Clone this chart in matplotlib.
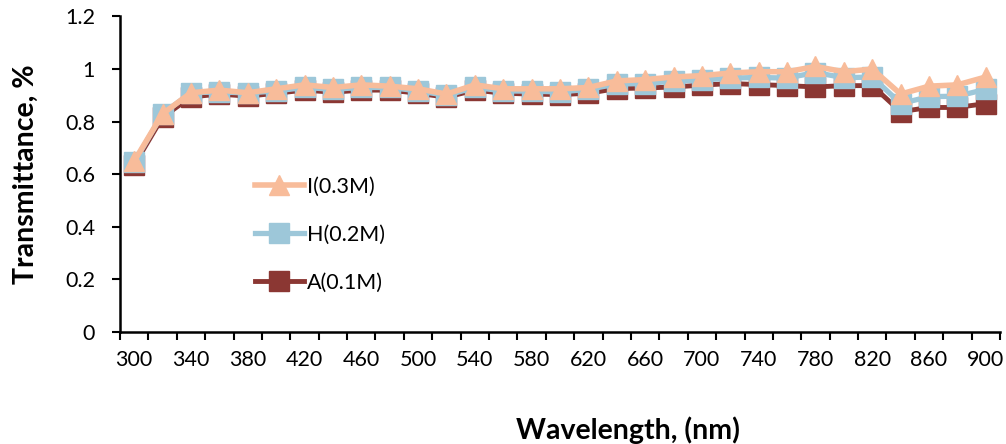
import matplotlib
matplotlib.use("Agg")
import matplotlib.pyplot as plt
import numpy as np

plt.rcParams['font.family'] = ['Lato', 'DejaVu Sans']

wavelengths = [300, 320, 340, 360, 380, 400, 420, 440, 460, 480, 500,
               520, 540, 560, 580, 600, 620, 640, 660, 680, 700, 720,
               740, 760, 780, 800, 820, 840, 860, 880, 900]

I_03M = [0.65, 0.83, 0.91, 0.92, 0.91, 0.925, 0.94, 0.93, 0.94, 0.935, 0.925,
         0.905, 0.94, 0.925, 0.925, 0.925, 0.93, 0.955, 0.96, 0.97, 0.975, 0.985,
         0.99, 0.99, 1.01, 0.99, 1.0, 0.905, 0.935, 0.94, 0.97]

H_02M = [0.645, 0.83, 0.91, 0.913, 0.909, 0.917, 0.93, 0.923, 0.93, 0.93, 0.917,
         0.90, 0.93, 0.917, 0.916, 0.913, 0.923, 0.943, 0.945, 0.954, 0.958, 0.966,
         0.968, 0.966, 0.987, 0.967, 0.97, 0.869, 0.895, 0.897, 0.923]

A_01M = [0.635, 0.817, 0.894, 0.905, 0.897, 0.908, 0.92, 0.912, 0.92, 0.92, 0.908,
         0.893, 0.92, 0.908, 0.905, 0.903, 0.908, 0.926, 0.928, 0.932, 0.939, 0.945,
         0.941, 0.937, 0.932, 0.937, 0.937, 0.838, 0.854, 0.854, 0.869]

c_I = '#F8BC9A'
c_H = '#9DC7D9'
c_A = '#8B3733'

fig = plt.figure(figsize=(10.06, 4.44), dpi=100)
ax = fig.add_axes([120 / 1006, 1 - 332 / 444, 880 / 1006, (332 - 16.5) / 444])

x = np.arange(len(wavelengths))
ax.plot(x, A_01M, color=c_A, lw=3.5, marker='s', ms=14, label='A(0.1M)', zorder=3)
ax.plot(x, H_02M, color=c_H, lw=3.8, marker='s', ms=14, label='H(0.2M)', zorder=4)
ax.plot(x, I_03M, color=c_I, lw=4.0, marker='^', ms=14, label='I(0.3M)', zorder=5)

ax.set_ylim(0, 1.2)
ax.set_yticks(np.arange(0, 1.21, 0.2))
ax.set_yticklabels(['0', '0.2', '0.4', '0.6', '0.8', '1', '1.2'])
ax.set_xlim(-0.5, len(wavelengths) - 0.5)

# tick marks between categories, labels on every other category
ax.set_xticks(np.arange(-0.5, len(wavelengths), 1.0))
ax.set_xticklabels([])
ax.set_xticks(x[::2], minor=True)
ax.set_xticklabels([str(w) for w in wavelengths[::2]], minor=True)
ax.tick_params(axis='x', which='major', length=6, width=1.5, direction='out')
ax.tick_params(axis='x', which='minor', length=0, pad=13, labelsize=15.5)
ax.tick_params(axis='y', length=6, width=1.5, direction='out', pad=12, labelsize=15.5)

for s in ['top', 'right']:
    ax.spines[s].set_visible(False)
for s in ['left', 'bottom']:
    ax.spines[s].set_linewidth(1.8)

ax.set_ylabel('Transmittance, %', fontsize=20.5, fontweight='bold', labelpad=19)
fig.text(628 / 1006, 1 - 430 / 444, 'Wavelength, (nm)', fontsize=20.5,
         fontweight='bold', ha='center', va='center')

handles, labels = ax.get_legend_handles_labels()
ax.legend(handles[::-1], labels[::-1], loc='upper left',
          bbox_to_anchor=(246 / 1006, 1 - 168 / 444), bbox_transform=fig.transFigure,
          frameon=False, fontsize=15.5, handlelength=2.3, handletextpad=0.15,
          labelspacing=1.3, borderaxespad=0)

fig.savefig('out.png', dpi=100)
